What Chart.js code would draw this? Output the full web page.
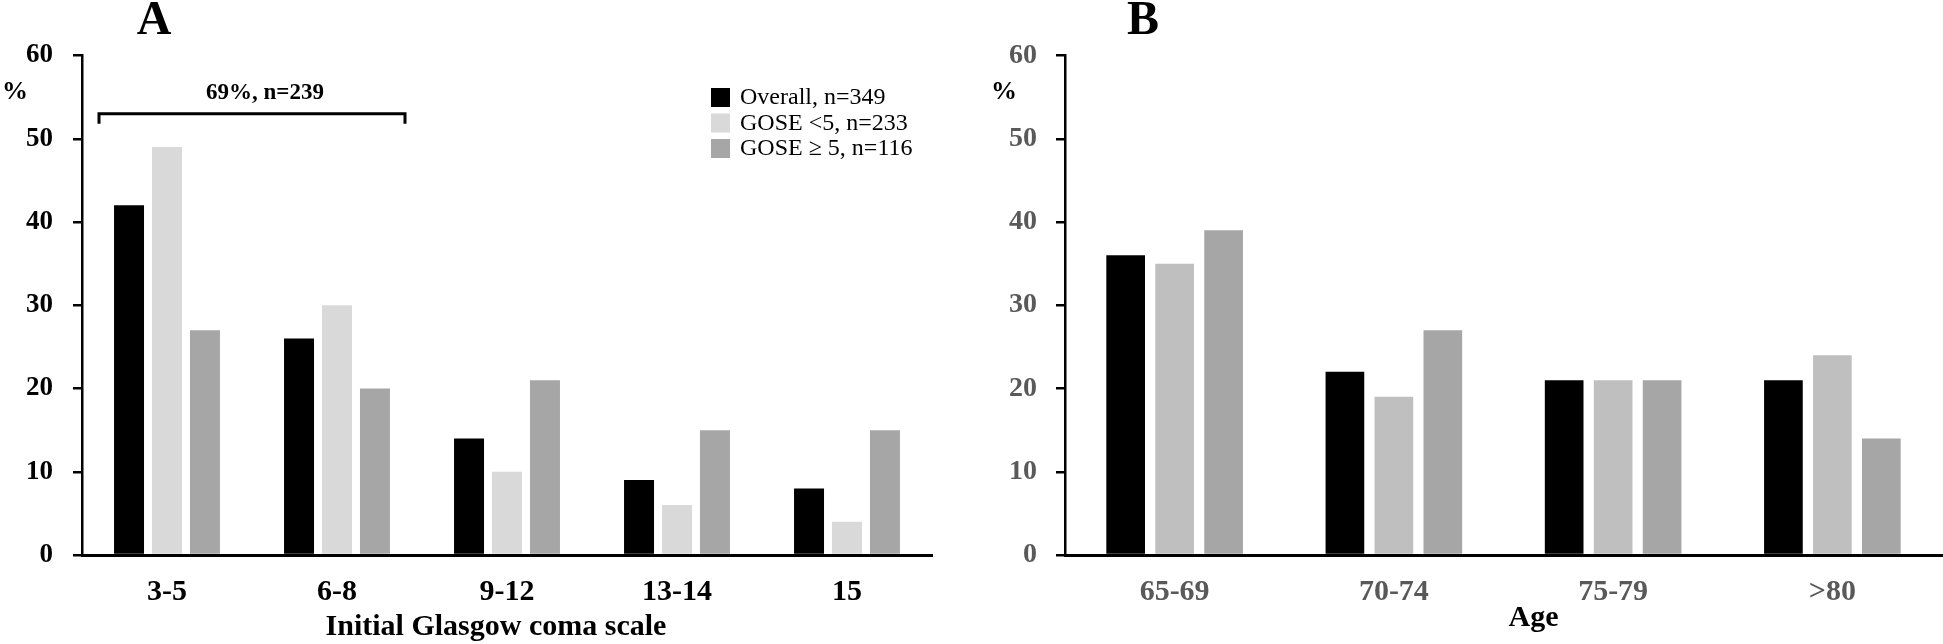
<!DOCTYPE html>
<html>
<head>
<meta charset="utf-8">
<script src="https://cdn.jsdelivr.net/npm/chart.js@4.4.1/dist/chart.umd.min.js"></script>
<style>
  body { margin: 0; background: #fff; }
  #wrap { position: relative; width: 1943px; height: 644px; }
  canvas { position: absolute; top: 0; }
  #chartA { left: 0; }
  #chartB { left: 960px; }
</style>
</head>
<body>
<div id="wrap">
  <canvas id="chartA" width="960" height="644"></canvas>
  <canvas id="chartB" width="983" height="644"></canvas>
</div>
<script>
// Panel A: initial Glasgow coma scale
const gcsLabels = ['3-5', '6-8', '9-12', '13-14', '15'];
const gcsOverall = [42, 26, 14, 9, 8];
const gcsGoseLow = [49, 30, 10, 6, 4];
const gcsGoseHigh = [27, 20, 21, 15, 15];

// Panel B: age groups
const ageLabels = ['65-69', '70-74', '75-79', '>80'];
const ageOverall = [36, 22, 21, 21];
const ageGoseLow = [35, 19, 21, 24];
const ageGoseHigh = [39, 27, 21, 14];

const yTicks = [0, 10, 20, 30, 40, 50, 60];
const seriesNames = ['Overall, n=349', 'GOSE <5, n=233', 'GOSE \u2265 5, n=116'];
const bracketText = '69%, n=239';
const bracketRange = [-0.4, 1.4];   // spans first two categories
const bracketLevel = 53;

const SERIF = '"Liberation Serif", "Times New Roman", serif';
Chart.defaults.font.family = SERIF;

function makeDatasets(values, colors) {
    return values.map((data, i) => ({
        label: seriesNames[i],
        data: data,
        backgroundColor: colors[i],
        borderWidth: 0,
        categoryPercentage: 0.67,
        barPercentage: 0.79
    }));
}

// extra drawing: panel letter, % sign, axis title, legend, bracket
const decorPlugin = {
    id: 'decor',
    afterDraw(chart, args, opts) {
        const ctx = chart.ctx;
        const area = chart.chartArea;
        const xs = chart.scales.x, ys = chart.scales.y;
        ctx.save();
        ctx.fillStyle = '#000';
        ctx.textAlign = 'center';

        ctx.textBaseline = 'alphabetic';
        ctx.font = 'bold 48px ' + SERIF;
        ctx.fillText(opts.panel, opts.panelX, 34);

        ctx.textBaseline = 'middle';
        ctx.font = 'bold 26px ' + SERIF;
        ctx.fillText('%', opts.pctX, 92);

        ctx.font = 'bold 30px ' + SERIF;
        ctx.fillText(opts.title, (area.left + area.right) / 2 + opts.titleShift, opts.titleY);

        if (opts.legend) {
            ctx.textAlign = 'left';
            ctx.font = '24px ' + SERIF;
            chart.data.datasets.forEach((ds, i) => {
                const top = 88 + i * 25.5;
                ctx.fillStyle = ds.backgroundColor;
                ctx.fillRect(711, top, 19, 19);
                ctx.fillStyle = '#000';
                ctx.fillText(ds.label, 740, top + 10);
            });
        }

        if (opts.bracket) {
            const x1 = xs.getPixelForValue(bracketRange[0]);
            const x2 = xs.getPixelForValue(bracketRange[1]);
            const yb = ys.getPixelForValue(bracketLevel);
            ctx.strokeStyle = '#000';
            ctx.lineWidth = 3;
            ctx.beginPath();
            ctx.moveTo(x1, yb + 10);
            ctx.lineTo(x1, yb);
            ctx.lineTo(x2, yb);
            ctx.lineTo(x2, yb + 10);
            ctx.stroke();
            ctx.textAlign = 'center';
            ctx.font = 'bold 23px ' + SERIF;
            ctx.fillText(bracketText, (x1 + x2) / 2 + 13, ys.getPixelForValue(55.5));
        }
        ctx.restore();
    }
};

function makeOptions(cfg) {
    return {
        responsive: false,
        animation: false,
        layout: { padding: { top: 55.5, right: cfg.right, left: 0, bottom: 0 } },
        plugins: {
            legend: { display: false },
            tooltip: { enabled: false },
            decor: cfg.decor
        },
        scales: {
            x: {
                grid: { display: false, drawTicks: false },
                border: { color: '#000', width: 3 },
                ticks: {
                    color: cfg.tickColor,
                    font: { family: SERIF, weight: 'bold', size: 30 },
                    padding: 19
                },
                afterFit: s => { s.height = 89; }
            },
            y: {
                min: 0,
                max: 60,
                afterBuildTicks: s => { s.ticks = yTicks.map(v => ({ value: v })); },
                grid: { drawOnChartArea: false, drawTicks: true, tickLength: 9, color: '#000', lineWidth: 2.5 },
                border: { color: '#000', width: 2.5 },
                ticks: {
                    color: cfg.tickColor,
                    font: { family: SERIF, weight: 'bold', size: cfg.ySize },
                    padding: cfg.tickPad
                },
                afterFit: s => { s.width = cfg.left; }
            }
        }
    };
}

new Chart(document.getElementById('chartA'), {
    type: 'bar',
    data: {
        labels: gcsLabels,
        datasets: makeDatasets([gcsOverall, gcsGoseLow, gcsGoseHigh], ['#000000', '#d9d9d9', '#a6a6a6'])
    },
    options: makeOptions({
        left: 82, right: 28, tickColor: '#000', tickPad: 20, ySize: 27,
        decor: { panel: 'A', panelX: 154, pctX: 15, title: 'Initial Glasgow coma scale', titleShift: -11, titleY: 627, legend: true, bracket: true }
    }),
    plugins: [decorPlugin]
});

new Chart(document.getElementById('chartB'), {
    type: 'bar',
    data: {
        labels: ageLabels,
        datasets: makeDatasets([ageOverall, ageGoseLow, ageGoseHigh], ['#000000', '#bfbfbf', '#a6a6a6'])
    },
    options: makeOptions({
        left: 105, right: 1, tickColor: '#595959', tickPad: 19, ySize: 28,
        decor: { panel: 'B', panelX: 183, pctX: 44, title: 'Age', titleShift: 30, titleY: 618, legend: false, bracket: false }
    }),
    plugins: [decorPlugin]
});
</script>
</body>
</html>
